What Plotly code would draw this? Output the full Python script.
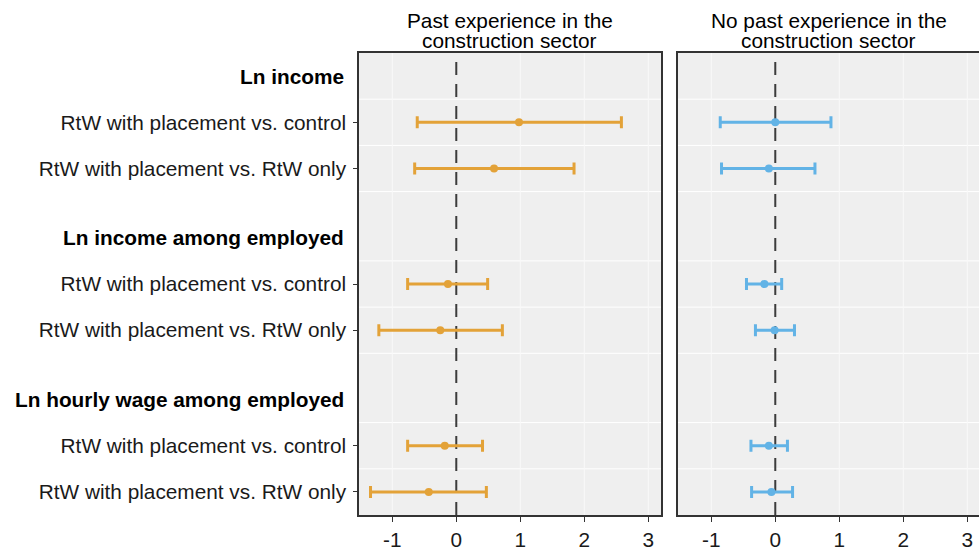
import plotly.graph_objects as go

# ---------------- data ----------------
outcomes = ["Ln income", "Ln income among employed", "Ln hourly wage among employed"]
comparisons = ["RtW with placement vs. control", "RtW with placement vs. RtW only"]
panel_titles = [["Past experience in the", "construction sector"],
                ["No past experience in the", "construction sector"]]

# estimates per panel, ordered outcome by outcome, comparison by comparison
past_est = [0.98, 0.59, -0.13, -0.25, -0.18, -0.43]
past_lo = [-0.61, -0.65, -0.76, -1.21, -0.76, -1.34]
past_hi = [2.58, 1.84, 0.49, 0.72, 0.41, 0.47]

nopast_est = [0.00, -0.10, -0.17, -0.01, -0.10, -0.06]
nopast_lo = [-0.86, -0.84, -0.45, -0.31, -0.38, -0.37]
nopast_hi = [0.87, 0.62, 0.10, 0.30, 0.19, 0.27]

x_ticks = [-1, 0, 1, 2, 3]

# ---------------- layout helpers ----------------
W, H = 979, 554
GROUP_STEP = 3.5
header_pos = [g * GROUP_STEP for g in range(len(outcomes))]
row_pos, row_lab = [], []
for g in range(len(outcomes)):
    for c, lab in enumerate(comparisons):
        row_pos.append(g * GROUP_STEP + 1 + c)
        row_lab.append(lab)
grid_pos = []
for g in range(len(outcomes)):
    base = g * GROUP_STEP
    grid_pos += [base + 0.5, base + 1.5]
grid_pos.append(2.5)
grid_pos.append(GROUP_STEP + 2.5)
grid_pos = sorted(set(grid_pos))

ORANGE = "#E3A238"
BLUE = "#62B3E6"
FONT = "Liberation Sans, Arial, sans-serif"
FS = 20.8
PX_PER_UNIT = 64.0
X_MIN = -1.52

def px_x(p):
    return min(max(p / W, 0.0), 1.0)

def px_y(p):
    return min(max(1 - p / H, 0.0), 1.0)

dom_y = [px_y(515), px_y(53)]
dom_x1 = [px_x(359), px_x(661)]
dom_x2 = [px_x(678), 1.0]
x1_max = X_MIN + (661 - 359) / PX_PER_UNIT
x2_max = X_MIN + (W - 678) / PX_PER_UNIT

fig = go.Figure()

def add_panel(est, lo, hi, color, xa, ya):
    fig.add_trace(go.Scatter(
        x=est, y=row_pos, mode="markers",
        marker=dict(color=color, size=8),
        error_x=dict(type="data", symmetric=False,
                     array=[h - e for h, e in zip(hi, est)],
                     arrayminus=[e - l for e, l in zip(est, lo)],
                     color=color, thickness=3, width=6),
        xaxis=xa, yaxis=ya, showlegend=False, hoverinfo="skip"))

add_panel(past_est, past_lo, past_hi, ORANGE, "x", "y")
add_panel(nopast_est, nopast_lo, nopast_hi, BLUE, "x2", "y2")

yr = [9.5, -0.5]
common_x = dict(tickmode="array", tickvals=x_ticks,
                ticktext=[str(v) if v >= 0 else "-" + str(-v) for v in x_ticks],
                showgrid=False,
                zeroline=False, showline=True, mirror=True,
                linecolor="#333333", linewidth=1.5,
                ticks="outside", ticklen=5, tickwidth=1, tickcolor="#333333",
                tickfont=dict(family=FONT, size=FS, color="#1a1a1a"),
                automargin=False, fixedrange=True)

fig.update_layout(
    width=W, height=H,
    margin=dict(l=0, r=0, t=0, b=0),
    paper_bgcolor="white", plot_bgcolor="#EFEFEF",
    font=dict(family=FONT, size=FS, color="#1a1a1a"),
    xaxis=dict(domain=dom_x1, anchor="y", range=[X_MIN, x1_max], **common_x),
    xaxis2=dict(domain=dom_x2, anchor="y2", range=[X_MIN, x2_max], **common_x),
    yaxis=dict(domain=dom_y, anchor="x", range=yr, tickmode="array",
               tickvals=row_pos, ticktext=row_lab, showgrid=False,
               zeroline=False, showline=True, mirror=True,
               linecolor="#333333", linewidth=1.5,
               ticks="outside", ticklen=4, tickwidth=1, tickcolor="#333333",
               ticklabelstandoff=3,
               tickfont=dict(family=FONT, size=FS, color="#1a1a1a"),
               automargin=False, fixedrange=True),
    yaxis2=dict(domain=dom_y, anchor="x2", range=yr, showticklabels=False,
                showgrid=False, zeroline=False, showline=True, mirror=True,
                linecolor="#333333", linewidth=1.5, ticks="",
                automargin=False, fixedrange=True),
)

shapes = []
for xa, ya in (("x", "y"), ("x2", "y2")):
    for gp in grid_pos:
        shapes.append(dict(type="line", xref=xa + " domain", yref=ya,
                           x0=0, x1=1, y0=gp, y1=gp, layer="below",
                           line=dict(color="white", width=1)))
    for xv in x_ticks:
        if xv == 0:
            continue
        shapes.append(dict(type="line", xref=xa, yref=ya + " domain",
                           x0=xv, x1=xv, y0=0, y1=1, layer="below",
                           line=dict(color="#F9F9F9", width=1)))
    shapes.append(dict(type="line", xref=xa, yref=ya + " domain",
                       x0=0, x1=0, y0=0, y1=1, layer="below",
                       line=dict(color="#3c3c3c", width=2, dash="13px,9px")))
fig.update_layout(shapes=shapes)

ann = []
for hp, lab in zip(header_pos, outcomes):
    ann.append(dict(text="<b>" + lab + "</b>", x=px_x(346), xref="paper",
                    y=hp, yref="y", xanchor="right", yanchor="middle",
                    showarrow=False, font=dict(family=FONT, size=FS, color="black")))
centers = [px_x((359 + 661) / 2), px_x((678 + 979) / 2)]
for cx, lines in zip(centers, panel_titles):
    for i, t in enumerate(lines):
        ann.append(dict(text=t, x=cx, xref="paper", y=px_y(20.5 + 19.5 * i),
                        yref="paper", xanchor="center", yanchor="middle",
                        showarrow=False, font=dict(family=FONT, size=FS, color="black")))
fig.update_layout(annotations=ann)

fig.write_html("out.html", config={"displayModeBar": False},
               post_script="document.body.style.margin='0';document.body.style.overflow='hidden';")
